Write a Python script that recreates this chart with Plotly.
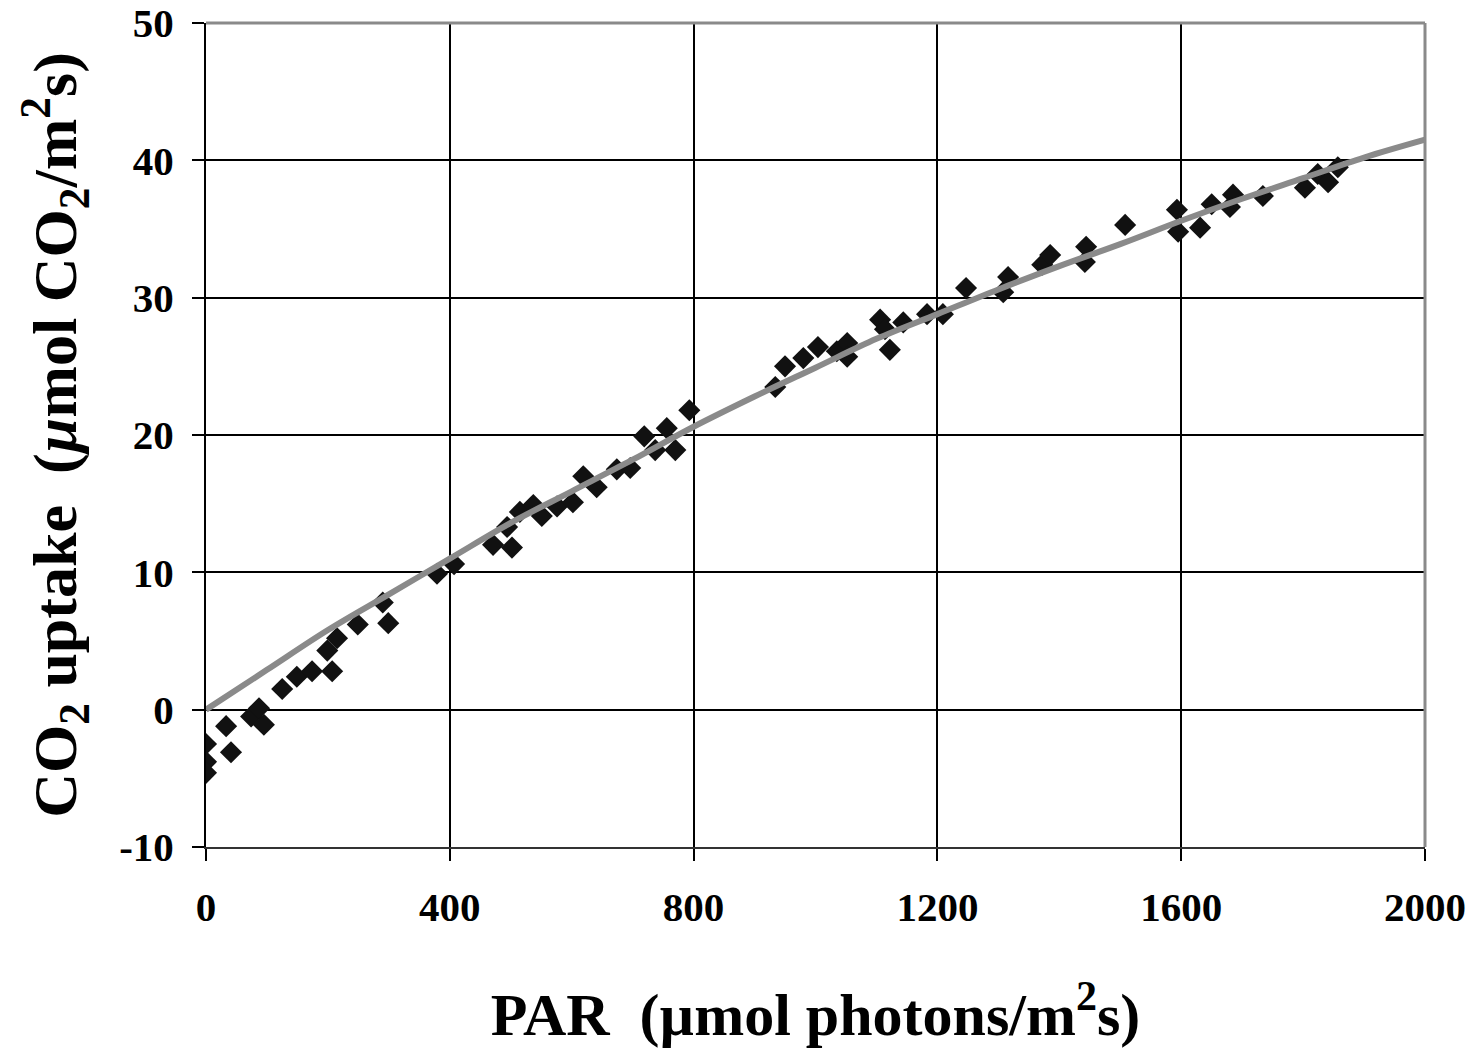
import plotly.graph_objects as go

# Measured points
par = [0, 0, 0, 33, 41, 74, 87, 95, 125, 149, 174, 199, 207, 215, 249, 290, 299,
       379, 407, 471, 494, 502, 515, 537, 551, 576, 602, 619, 641, 674, 696, 719,
       737, 756, 770, 793, 934, 950, 980, 1004, 1035, 1052, 1052, 1106, 1114, 1122,
       1144, 1183, 1209, 1247, 1308, 1316, 1372, 1385, 1442, 1444, 1508, 1593, 1595,
       1631, 1650, 1680, 1685, 1734, 1803, 1824, 1841, 1857]
uptake = [-2.5, -3.8, -4.6, -1.2, -3.1, -0.5, 0.1, -1.1, 1.5, 2.4, 2.8, 4.3, 2.8, 5.2, 6.2, 7.8, 6.3,
          9.9, 10.6, 12.0, 13.3, 11.8, 14.4, 14.9, 14.1, 14.8, 15.1, 17.0, 16.2, 17.5, 17.6, 19.9,
          18.9, 20.5, 18.9, 21.8, 23.5, 25.0, 25.6, 26.4, 26.1, 26.7, 25.7, 28.4, 27.7, 26.2,
          28.2, 28.8, 28.8, 30.7, 30.4, 31.5, 32.4, 33.1, 32.6, 33.7, 35.3, 36.4, 34.8,
          35.1, 36.8, 36.6, 37.5, 37.4, 38.0, 39.0, 38.4, 39.5]

# Fitted curve
fit_par = [0, 100, 200, 300, 400, 500, 600, 700, 800, 900, 1000, 1100, 1200, 1300,
           1400, 1500, 1600, 1700, 1800, 1900, 2000]
fit_uptake = [0, 2.9, 5.8, 8.4, 11.0, 13.6, 15.9, 18.2, 20.6, 22.8, 24.9, 27.0, 28.8, 30.6,
              32.3, 33.9, 35.6, 37.2, 38.7, 40.2, 41.5]

x_ticks = [0, 400, 800, 1200, 1600, 2000]
y_ticks = [-10, 0, 10, 20, 30, 40, 50]

FONT = "Liberation Serif"

fig = go.Figure()
fig.add_trace(go.Scatter(x=par, y=uptake, mode="markers",
                         marker=dict(symbol="diamond", size=17, color="#111111",
                                     line=dict(width=0)),
                         showlegend=False))
fig.add_trace(go.Scatter(x=fit_par, y=fit_uptake, mode="lines",
                         line=dict(color="#8a8a8a", width=6, shape="spline"),
                         showlegend=False))

fig.update_layout(
    width=1473, height=1055,
    margin=dict(l=206, r=48, t=23, b=208),
    paper_bgcolor="white", plot_bgcolor="white",
    font=dict(family=FONT, color="black"),
    xaxis=dict(range=[0, 2000], tickvals=x_ticks, ticktext=[f"<b>{v}</b>" for v in x_ticks],
               tickfont=dict(size=41, family=FONT), ticks="outside", ticklen=12,
               tickcolor="black", tickwidth=2, ticklabelstandoff=11, automargin=False,
               ticklabeloverflow="allow",
               showgrid=True, gridcolor="black", gridwidth=2, zeroline=False,
               showline=True, linecolor="#333333", linewidth=2,
               title=dict(text="<b>PAR  (µmol photons/m<sup>2</sup>s)</b>",
                          font=dict(size=60, family=FONT), standoff=64)),
    yaxis=dict(range=[-10, 50], tickvals=y_ticks, ticktext=[f"<b>{v}</b>" for v in y_ticks],
               tickfont=dict(size=41, family=FONT), ticks="outside", ticklen=12,
               tickcolor="black", tickwidth=2, ticklabelstandoff=10, automargin=False,
               ticklabeloverflow="allow",
               showgrid=True, gridcolor="black", gridwidth=2,
               zeroline=True, zerolinecolor="black", zerolinewidth=2,
               showline=True, linecolor="black", linewidth=2,
               title=dict(text="<b>CO<sub>2</sub> uptake  (<i>µ</i>mol CO<sub>2</sub>/m<sup>2</sup>s)</b>",
                          font=dict(size=62, family=FONT), standoff=22)),
    shapes=[
        dict(type="line", xref="paper", yref="paper", x0=0, x1=1, y0=1, y1=1,
             line=dict(color="#8a8a8a", width=3), layer="above"),
        dict(type="line", xref="paper", yref="paper", x0=1, x1=1, y0=0, y1=1,
             line=dict(color="#8a8a8a", width=3), layer="above"),
    ],
)

fig.write_html("out.html", config={"displayModeBar": False},
               post_script="document.body.style.margin='0';document.body.style.overflow='hidden';")
